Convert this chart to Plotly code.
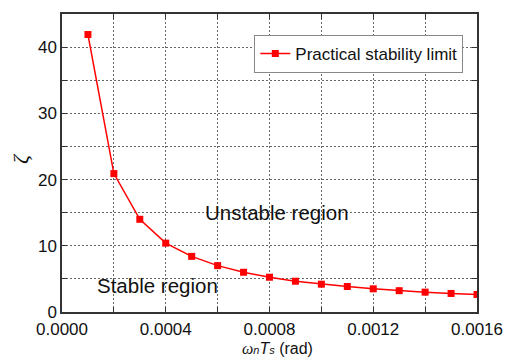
import plotly.graph_objects as go

x_vals = [0.0001, 0.0002, 0.0003, 0.0004, 0.0005, 0.0006, 0.0007, 0.0008,
          0.0009, 0.0010, 0.0011, 0.0012, 0.0013, 0.0014, 0.0015, 0.0016]
zeta_vals = [41.9, 20.9, 14.0, 10.4, 8.4, 7.0, 6.0, 5.25,
             4.65, 4.2, 3.85, 3.5, 3.22, 3.0, 2.8, 2.65]

x_tickvals = [0.0000, 0.0002, 0.0004, 0.0006, 0.0008, 0.0010, 0.0012, 0.0014, 0.0016]
x_ticktext = ["0.0000", "", "0.0004", "", "0.0008", "", "0.0012", "", "0.0016"]
y_tickvals = [0, 5, 10, 15, 20, 25, 30, 35, 40, 45]
y_ticktext = ["0", "", "10", "", "20", "", "30", "", "40", ""]

font_family = "Arial, Liberation Sans, sans-serif"

fig = go.Figure()
fig.add_trace(go.Scatter(
    x=x_vals, y=zeta_vals, mode="lines+markers",
    name="Practical stability limit",
    line=dict(color="#ff0000", width=1.5),
    marker=dict(symbol="square", size=7, color="#ff0000"),
))

axis_common = dict(
    showline=True, linecolor="#333333", linewidth=1.5, mirror="allticks",
    ticks="inside", ticklen=5, tickcolor="#333333", tickwidth=1.2,
    showgrid=True, gridcolor="#666666", griddash="2px,2px", gridwidth=1,
    zeroline=False,
    tickfont=dict(family=font_family, size=17, color="#111111"),
)

fig.update_layout(
    width=515, height=358,
    margin=dict(l=62, r=29, t=12, b=46),
    paper_bgcolor="white", plot_bgcolor="white",
    showlegend=True,
    legend=dict(x=0.967, y=0.93, xanchor="right", yanchor="top",
                bgcolor="white", bordercolor="#888888", borderwidth=1,
                font=dict(family=font_family, size=17, color="#111111"),
                tracegroupgap=0),
    xaxis=dict(range=[0, 0.0016], tickvals=x_tickvals, ticktext=x_ticktext,
               ticklabelstandoff=1, **axis_common),
    yaxis=dict(range=[0, 45], tickvals=y_tickvals, ticktext=y_ticktext,
               **axis_common),
    annotations=[
        dict(x=0.00083, y=15, xref="x", yref="y", text="Unstable region",
             showarrow=False, font=dict(family=font_family, size=20.5, color="#111111")),
        dict(x=0.00037, y=4, xref="x", yref="y", text="Stable region",
             showarrow=False, font=dict(family=font_family, size=20.5, color="#111111")),
        dict(x=0.52, y=-0.122, xref="paper", yref="paper", yanchor="middle",
             text="<i><span style='font-family:Liberation Serif, serif'>ω</span>"
                  "<span style='font-size:11px'>n</span>T"
                  "<span style='font-size:11px'>s</span></i> (rad)",
             showarrow=False,
             font=dict(family=font_family, size=16, color="#111111")),
        dict(x=-0.1, y=0.515, xref="paper", yref="paper", xanchor="center",
             text="<i>ζ</i>", showarrow=False, textangle=-90,
             font=dict(family="Liberation Serif, serif", size=22, color="#111111")),
    ],
)

fig.write_html("out.html")
